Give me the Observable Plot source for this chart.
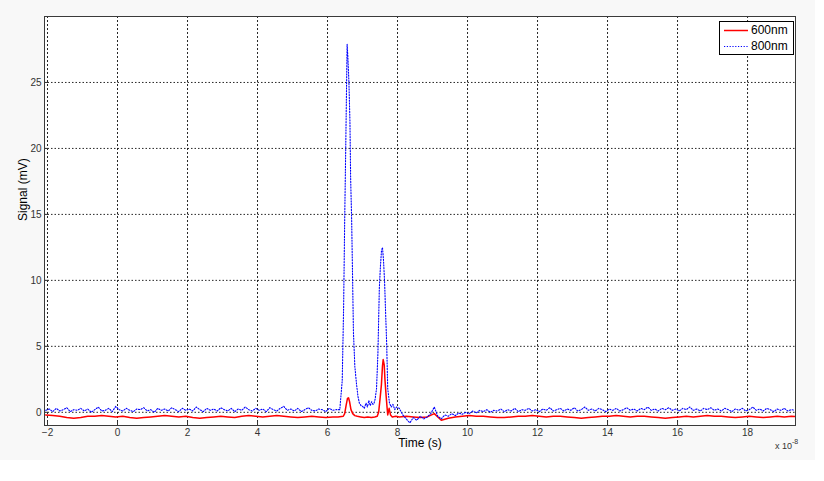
<!DOCTYPE html>
<html><head><meta charset="utf-8">
<script src="https://cdn.jsdelivr.net/npm/d3@7"></script>
<script src="https://cdn.jsdelivr.net/npm/@observablehq/plot@0.6"></script>
<style>
body{margin:0;background:#fff;}
#wrap{position:relative;width:824px;height:481px;font-family:"Liberation Sans",Arial,sans-serif;}
#bg{position:absolute;left:0;top:0;width:815px;height:460px;background:#f8f8f8;}
#chart{position:absolute;left:0;top:0;}
#legend{position:absolute;left:719px;top:21px;width:73px;height:32px;background:#fff;border:1px solid #000;font-size:12px;color:#000;}
#legend .row{position:absolute;left:0;height:14px;line-height:14px;}
#legend .row span{position:absolute;left:31px;top:0;}
#legend svg{position:absolute;left:4px;top:0;}
#expo{position:absolute;left:775px;top:439px;font-size:9px;color:#333;}
#expo sup{font-size:7px;position:relative;top:-1px;}
</style></head>
<body><div id="wrap"><div id="bg"></div><div id="chart"></div>
<div id="legend">
 <div class="row" style="top:1px"><svg width="26" height="14"><line x1="0" y1="7.5" x2="24" y2="7.5" stroke="#ff0000" stroke-width="1.5"/></svg><span>600nm</span></div>
 <div class="row" style="top:17px"><svg width="26" height="14"><line x1="0" y1="7.5" x2="24" y2="7.5" stroke="#0000ff" stroke-width="1.1" stroke-dasharray="1.2,1.6"/></svg><span>800nm</span></div>
</div>
<div id="expo">x 10<sup>-8</sup></div>
</div>
<script>
// ---- data (time in units of 1e-8 s, signal in mV) ----
const xTicks = [-2, 0, 2, 4, 6, 8, 10, 12, 14, 16, 18];
const yTicks = [0, 5, 10, 15, 20, 25];

// 800nm baseline before the peaks (sampled every 0.1 from -2.05)
const v800pre = [0.15,0.25,0.05,0.3,0.1,0.2,0.35,0.05,0.2,0.15,
 0.3,0.1,0.25,0.0,0.2,0.4,0.1,0.15,0.3,0.05,
 0.45,0.2,0.1,0.3,0.15,0.05,0.25,0.2,0.35,0.1,
 0.2,0.0,0.3,0.15,0.25,0.1,0.35,0.2,0.05,0.3,
 0.15,0.25,0.1,0.4,0.2,0.05,0.3,0.15,0.25,0.1,
 0.35,0.2,0.1,0.3,0.05,0.25,0.15,0.4,0.2,0.1,
 0.3,0.15,0.25,0.05,0.35,0.2,0.1,0.3,0.45,0.15,
 0.25,0.1,0.3,0.05,0.2,0.35,0.15,0.1,0.25,0.2,
 0.05,0.3,0.15,0.2];
// 800nm peak region
const t800peak = [6.35,6.42,6.46,6.49,6.52,6.545,6.56,6.58,6.61,6.64,6.66,6.69,6.72,6.74,6.78,6.83,6.87,6.91,6.96,7.0,
 7.05,7.1,7.14,7.18,7.22,7.26,7.3,7.33,7.36,7.40,7.44,7.48,7.51,7.54,7.57,7.6,7.63,7.66,7.69,7.72,7.77,7.82,7.87,7.92,7.97];
const v800peak = [0.2,2.4,8.0,14.5,20.0,25.0,27.9,27.0,25.1,22.1,17.8,14.5,9.5,6.1,3.5,2.1,1.2,0.7,0.5,0.45,
 0.3,0.7,0.4,0.9,0.5,0.8,0.6,0.7,1.0,1.8,4.5,9.4,11.0,12.2,12.5,11.5,9.9,7.5,5.2,1.8,0.7,0.4,0.6,0.2,0.4];
// 800nm after the peaks (sampled every 0.1 from 8.05)
const v800post = [0.3,-0.2,-0.5,-0.8,-0.4,-0.6,-0.3,-0.5,-0.35,-0.1,
 0.4,-0.3,-0.5,-0.2,-0.3,-0.1,-0.25,-0.05,-0.15,0.0,
 -0.1,0.1,-0.05,0.15,0.05,0.2,0.0,0.15,0.1,0.25,
 0.05,0.2,0.1,0.3,0.05,0.2,0.15,0.3,0.1,0.2,
 0.05,0.25,0.15,0.35,0.1,0.2,0.3,0.1,0.25,0.15,
 0.35,0.1,0.2,0.4,0.15,0.25,0.1,0.3,0.2,0.05,
 0.25,0.15,0.3,0.1,0.2,0.35,0.15,0.25,0.1,0.3,
 0.2,0.4,0.15,0.25,0.1,0.3,0.2,0.35,0.15,0.25,
 0.1,0.3,0.2,0.4,0.15,0.25,0.1,0.3,0.2,0.35,
 0.15,0.25,0.1,0.3,0.2,0.05,0.25,0.15,0.3,0.1,
 0.2,0.4,0.15,0.25,0.1,0.3,0.2,0.05,0.25,0.15,
 0.3,0.1,0.2,0.15];

// 600nm baseline before the peaks (sampled every 0.2 from -2.05)
const v600pre = [-0.2,-0.25,-0.3,-0.4,-0.45,-0.4,-0.3,-0.3,-0.25,-0.3,
 -0.35,-0.3,-0.4,-0.45,-0.4,-0.35,-0.3,-0.25,-0.3,-0.35,
 -0.3,-0.4,-0.45,-0.4,-0.35,-0.3,-0.35,-0.4,-0.3,-0.25,
 -0.3,-0.35,-0.3,-0.25,-0.3,-0.35,-0.4,-0.35,-0.3,-0.35,
 -0.4,-0.35];
// 600nm peak region
const t600peak = [6.3,6.45,6.49,6.53,6.57,6.6,6.63,6.67,6.72,6.78,6.85,6.95,7.05,7.15,7.25,7.35,7.42,7.46,7.5,7.54,
 7.57,7.59,7.62,7.64,7.67,7.7,7.72,7.76,7.8,7.85,7.95];
const v600peak = [-0.35,-0.3,-0.1,0.5,1.05,1.1,0.8,0.2,-0.1,-0.25,-0.3,-0.35,-0.4,-0.35,-0.4,-0.35,-0.3,0.0,1.0,2.1,
 3.5,4.0,3.6,2.5,1.4,0.4,-0.2,0.3,-0.2,-0.35,-0.3];
// 600nm after the peaks (sampled every 0.2 from 8.05)
const v600post = [-0.35,-0.3,-0.35,-0.4,-0.35,-0.1,-0.6,-0.45,-0.35,-0.3,
 -0.25,-0.3,-0.3,-0.35,-0.4,-0.4,-0.35,-0.3,-0.3,-0.25,
 -0.3,-0.35,-0.3,-0.3,-0.35,-0.4,-0.45,-0.4,-0.35,-0.3,
 -0.3,-0.25,-0.3,-0.35,-0.3,-0.3,-0.35,-0.4,-0.45,-0.4,
 -0.35,-0.3,-0.35,-0.3,-0.25,-0.3,-0.3,-0.35,-0.4,-0.35,
 -0.3,-0.35,-0.4,-0.35,-0.3,-0.35,-0.3,-0.35];

// ---- assemble rows ----
const grid = (vals, start, step) => vals.map((v, i) => ({t: start + i * step, v}));
const pairs = (ts, vs) => ts.map((t, i) => ({t, v: vs[i]}));
const s800 = [...grid(v800pre, -2.05, 0.1), ...pairs(t800peak, v800peak), ...grid(v800post, 8.05, 0.1)];
const s600 = [...grid(v600pre, -2.05, 0.2), ...pairs(t600peak, v600peak), ...grid(v600post, 8.05, 0.2)];

const xDomain = [-2.086, 19.37];
const yDomain = [-1, 30];
const font = "'Liberation Sans', Arial, sans-serif";
const chart = Plot.plot({
  width: 824, height: 481,
  marginLeft: 44, marginRight: 29, marginTop: 16, marginBottom: 56,
  style: {background: "transparent", fontFamily: font, fontSize: "10px", color: "#333"},
  x: {domain: xDomain, ticks: xTicks},
  y: {domain: yDomain, ticks: yTicks},
  marks: [
    Plot.frame({fill: "white"}),
    Plot.gridX(xTicks, {stroke: "#000", strokeOpacity: 0.85, strokeDasharray: "2,2"}),
    Plot.gridY(yTicks, {stroke: "#000", strokeOpacity: 0.85, strokeDasharray: "1.5,2"}),
    Plot.line(s600, {x: "t", y: "v", stroke: "#ff0000", strokeWidth: 1.5, clip: true}),
    Plot.line(s800, {x: "t", y: "v", stroke: "#0000ff", strokeWidth: 1.1, strokeDasharray: "1.2,1.6", clip: true}),
    Plot.axisX(xTicks, {tickSize: 0, tickPadding: 3, label: null, fill: "#333"}),
    Plot.axisY(yTicks, {tickSize: 0, tickPadding: 3, label: null, fill: "#333"}),
    Plot.ruleX(xTicks, {x: d => d, y1: yDomain[0], y2: yDomain[0] + 0.3, stroke: "#333"}),
    Plot.ruleY(yTicks, {y: d => d, x1: xDomain[0], x2: xDomain[0] + 0.12, stroke: "#333"}),
    Plot.text(["Time (s)"], {frameAnchor: "bottom", dy: 21, fontSize: 12, fill: "#000"}),
    Plot.text(["Signal (mV)"], {frameAnchor: "left", dx: -21, rotate: -90, fontSize: 12, fill: "#000"}),
    Plot.frame({stroke: "#3a3a3a", strokeWidth: 1})
  ]
});
document.getElementById("chart").appendChild(chart);
</script>
</body></html>
